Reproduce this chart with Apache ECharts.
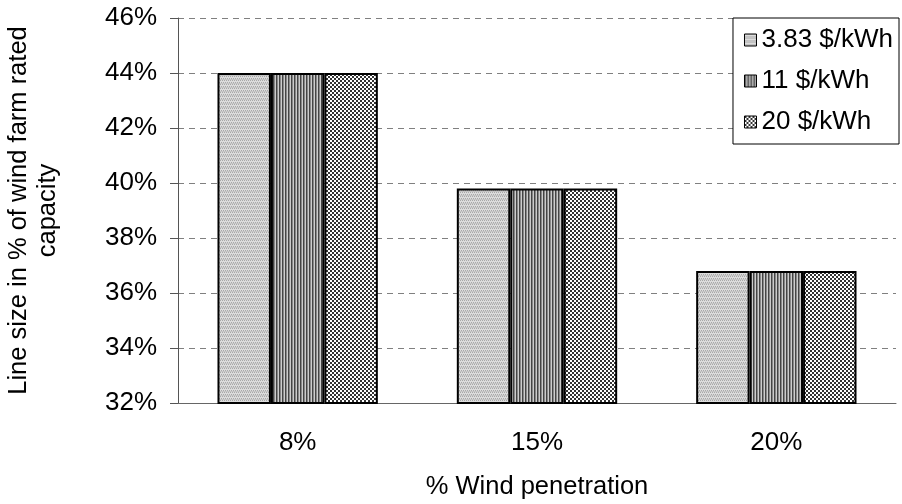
<!DOCTYPE html>
<html>
<head>
<meta charset="utf-8">
<script src="https://cdn.jsdelivr.net/npm/echarts@6/dist/echarts.min.js"></script>
<style>
  html, body { margin: 0; padding: 0; background: #fff; }
  #chart { width: 902px; height: 504px; }
</style>
</head>
<body>
<div id="chart"></div>
<script>
const categories = ["8%", "15%", "20%"];
const seriesNames = ["3.83 $/kWh", "11 $/kWh", "20 $/kWh"];
const low = [44, 39.8, 36.8];
const mid = [44, 39.8, 36.8];
const high = [44, 39.8, 36.8];

// small tile canvases for the hatch fills
function tile(w, h, draw) {
  const c = document.createElement("canvas");
  c.width = w;
  c.height = h;
  draw(c.getContext("2d"));
  return c;
}

const dotted = tile(4, 4, (g) => {
  g.fillStyle = "#dcdcdc";
  g.fillRect(0, 0, 4, 4);
  g.fillStyle = "#a8a8a8";
  g.fillRect(0, 0, 1, 1);
  g.fillRect(2, 0, 1, 1);
  g.fillRect(1, 2, 1, 1);
  g.fillRect(3, 2, 1, 1);
  g.fillStyle = "#c4c4c4";
  g.fillRect(0, 3, 4, 1);
});

const stripes = tile(3, 3, (g) => {
  g.fillStyle = "#444444";
  g.fillRect(0, 0, 3, 3);
  g.fillStyle = "#888888";
  g.fillRect(1, 0, 1, 3);
  g.fillStyle = "#cccccc";
  g.fillRect(2, 0, 1, 3);
});

const checks = tile(4, 4, (g) => {
  g.fillStyle = "#ffffff";
  g.fillRect(0, 0, 4, 4);
  g.fillStyle = "#333333";
  g.fillRect(0, 0, 2, 2);
  g.fillRect(2, 2, 2, 2);
});

const fills = [dotted, stripes, checks];
const values = [low, mid, high];

const chart = echarts.init(document.getElementById("chart"));

chart.setOption({
  animation: false,
  textStyle: { fontFamily: "Liberation Sans, Arial, sans-serif", color: "#000" },
  grid: {
    left: 178, right: 6, top: 18, bottom: 101,
    containLabel: false,
    outerBoundsMode: "none",
  },
  legend: {
    orient: "vertical",
    right: 3,
    top: 18,
    padding: [9, 6, 9, 11],
    itemGap: 15,
    itemWidth: 12,
    itemHeight: 12,
    icon: "rect",
    borderColor: "#000",
    borderWidth: 1,
    borderRadius: 0,
    backgroundColor: "#fff",
    textStyle: { fontSize: 26, color: "#000" },
    itemStyle: { borderWidth: 1, borderColor: "#000" },
    data: seriesNames,
  },
  xAxis: {
    type: "category",
    data: categories,
    name: "% Wind penetration",
    nameLocation: "middle",
    nameGap: 71,
    nameTextStyle: { fontSize: 25.5, color: "#000" },
    axisLine: { lineStyle: { color: "#666", width: 1 } },
    axisTick: { length: 7, lineStyle: { color: "#666" } },
    axisLabel: { fontSize: 26, color: "#000", margin: 27 },
  },
  yAxis: {
    type: "value",
    min: 32,
    max: 46,
    interval: 2,
    name: "Line size in % of wind farm rated\ncapacity",
    nameLocation: "middle",
    nameGap: 116,
    nameRotate: 90,
    nameTextStyle: { fontSize: 25.5, color: "#000", lineHeight: 29 },
    axisLine: { show: true, lineStyle: { color: "#555", width: 1 } },
    axisTick: { show: true, length: 8, lineStyle: { color: "#555" } },
    axisLabel: { fontSize: 26, color: "#000", margin: 21, formatter: "{value}%" },
    splitLine: { lineStyle: { color: "#808080", type: [6, 5], width: 1 } },
  },
  series: seriesNames.map((name, i) => ({
    name: name,
    type: "bar",
    data: values[i],
    barGap: "0%",
    barCategoryGap: "33%",
    itemStyle: {
      color: { image: fills[i], repeat: "repeat" },
      borderColor: "#000",
      borderWidth: 2,
    },
  })),
});
</script>
</body>
</html>
